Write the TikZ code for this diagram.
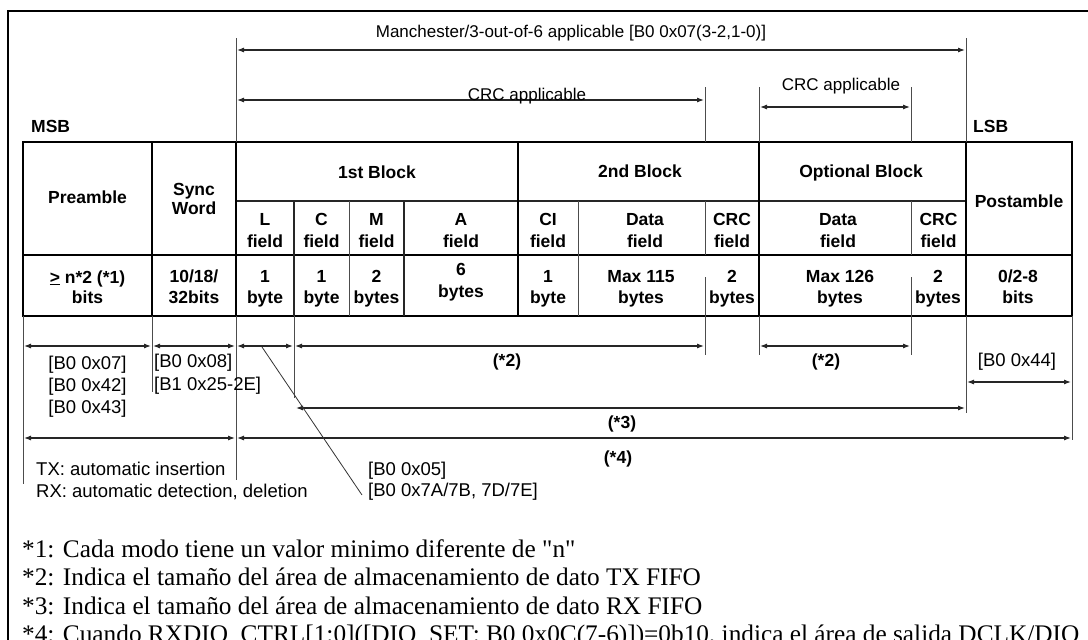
\documentclass[tikz,border=0pt]{standalone}
\usepackage{fontspec}
\setmainfont{Liberation Serif}[Ligatures=TeXOff]
\setsansfont{Liberation Sans}
\usetikzlibrary{arrows.meta}
\newcommand{\tcell}[6]{%
  \node[tb] (#1a) at (#2,#3) {#5};
  \node[tb] (#1b) at (#2,#4) {#6};}
\begin{document}
\begin{tikzpicture}[x=1pt,y=-1pt,
  thk/.style={line width=1.7pt},
  mid/.style={line width=1.2pt, black!85},
  thn/.style={line width=1pt, black!70},
  dim/.style={line width=1.1pt, black!85, {Latex[length=7pt,width=5pt]}-{Latex[length=7pt,width=5pt]}},
  tb/.style={font=\sffamily\bfseries\fontsize{17.5}{21}\selectfont, inner sep=0pt, anchor=base},
  lb/.style={font=\sffamily\fontsize{17}{21}\selectfont, inner sep=0pt, anchor=base},
  br/.style={font=\sffamily\fontsize{18.5}{22}\selectfont, inner sep=0pt, anchor=base west},
  fn/.style={font=\rmfamily\fontsize{25.3}{29}\selectfont, inner sep=0pt, anchor=base west},
]
\useasboundingbox (0,0) rectangle (1088,640);
% frame
\draw[line width=1.5pt] (1100,11) -- (8,11) -- (8,660);

% table
\draw[thk] (23,142) rectangle (1072,316);
\draw[mid] (236,201) -- (966,201);
\draw[thk] (23,255) -- (1072,255);
\draw[thk] (152,142) -- (152,316);
\draw[thk] (236,142) -- (236,316);
\draw[thk] (518,142) -- (518,316);
\draw[thk] (759,142) -- (759,316);
\draw[thk] (966,142) -- (966,316);
\draw[mid] (294,201) -- (294,316);
\draw[thn] (349,201) -- (349,316);
\draw[mid] (404,201) -- (404,316);
\draw[thn] (578,201) -- (578,316);
\draw[thn] (705,201) -- (705,255);
\draw[thn] (911,201) -- (911,255);

% extension lines
\draw[thn] (236,38) -- (236,142);
\draw[thn] (966,38) -- (966,142);
\draw[thn] (705,87) -- (705,142);
\draw[thn] (759,87) -- (759,142);
\draw[thn] (911,87) -- (911,142);
\draw[thn] (23,316) -- (23,484);
\draw[thn] (152,316) -- (152,392);
\draw[thn] (236,316) -- (236,480);
\draw[thn] (294,316) -- (294,398);
\draw[thn] (705,277) -- (705,355);
\draw[thn] (759,316) -- (759,355);
\draw[thn] (911,277) -- (911,355);
\draw[thn] (966,316) -- (966,413);
\draw[thn] (1072,316) -- (1072,440);

% dimension arrows
\coordinate (m1) at (237,50);  \coordinate (m2) at (965,50);
\coordinate (c1a) at (237,100); \coordinate (c1b) at (704,100);
\coordinate (c2a) at (760,107); \coordinate (c2b) at (910,107);
\coordinate (p1) at (24,346);  \coordinate (p2) at (151,346);
\coordinate (s1) at (153,346); \coordinate (s2) at (235,346);
\coordinate (l1) at (237,346); \coordinate (l2) at (293,346);
\coordinate (d1) at (295,346); \coordinate (d2) at (704,346);
\coordinate (o1) at (760,346); \coordinate (o2) at (910,346);
\coordinate (q1) at (967,382); \coordinate (q2) at (1071,382);
\coordinate (r1) at (296,408); \coordinate (r2) at (965,408);
\coordinate (t1) at (24,438);  \coordinate (t2) at (235,438);
\coordinate (u1) at (237,438); \coordinate (u2) at (1071,438);
\foreach \a/\b in {m1/m2,c1a/c1b,c2a/c2b,p1/p2,s1/s2,l1/l2,d1/d2,o1/o2,q1/q2,r1/r2,t1/t2,u1/u2}
  \draw[dim] (\a) -- (\b);
\coordinate (g1) at (262,347); \coordinate (g2) at (362,495);
\draw[line width=0.8pt, black!80] (g1) -- (g2);

% top labels
\node[lb] (man) at (571,37) {Manchester/3-out-of-6 applicable [B0 0x07(3-2,1-0)]};
\node[lb] (crc1) at (527,100) {CRC applicable};
\node[lb] (crc2) at (841,90) {CRC applicable};
\node[tb, anchor=base west] (msb) at (31,132) {MSB};
\node[tb, anchor=base west] (lsb) at (973,132) {LSB};

% header cells
\node[tb] (pre) at (87.5,203) {Preamble};
\tcell{sync}{194}{195}{214}{Sync}{Word}
\node[tb] (b1) at (377,178) {1st Block};
\node[tb] (b2) at (640,177) {2nd Block};
\node[tb] (b3) at (861,177) {Optional Block};
\node[tb] (post) at (1019,207) {Postamble};

% field row
\tcell{fl}{265}{225}{247}{L}{field}
\tcell{fc}{321.5}{225}{247}{C}{field}
\tcell{fm}{376.5}{225}{247}{M}{field}
\tcell{fa}{461}{225}{247}{A}{field}
\tcell{fci}{548}{225}{247}{CI}{field}
\tcell{fd}{645}{225}{247}{Data}{field}
\tcell{fcrc}{732}{225}{247}{CRC}{field}
\tcell{fod}{838}{225}{247}{Data}{field}
\tcell{focrc}{938.5}{225}{247}{CRC}{field}

% value row
\tcell{vpre}{87.5}{283}{303}{\underline{>} n*2 (*1)}{bits}
\tcell{vsync}{194}{282}{303}{10/18/}{32bits}
\tcell{vl}{265}{282}{303}{1}{byte}
\tcell{vc}{321.5}{282}{303}{1}{byte}
\tcell{vm}{376.5}{282}{303}{2}{bytes}
\tcell{va}{461}{275}{297}{6}{bytes}
\tcell{vci}{548}{282}{303}{1}{byte}
\tcell{vd}{641}{282}{303}{Max 115}{bytes}
\tcell{vcrc}{732}{282}{303}{2}{bytes}
\tcell{vod}{840}{282}{303}{Max 126}{bytes}
\tcell{vocrc}{938}{282}{303}{2}{bytes}
\tcell{vpost}{1018}{282}{303}{0/2-8}{bits}

% lower labels
\node[br, anchor=base] (r07) at (87.5,369) {[B0 0x07]};
\node[br, anchor=base] (r42) at (87.5,391) {[B0 0x42]};
\node[br, anchor=base] (r43) at (87.5,413) {[B0 0x43]};
\node[br] (r08) at (154,367) {[B0 0x08]};
\node[br] (r25) at (154,390) {[B1 0x25-2E]};
\node[tb] (n2a) at (507,366) {(*2)};
\node[tb] (n2b) at (826,366) {(*2)};
\node[br, anchor=base] (r44) at (1017,366) {[B0 0x44]};
\node[tb] (n3) at (622,428) {(*3)};
\node[tb] (n4) at (618,463) {(*4)};
\node[br] (tx) at (36,475) {TX: automatic insertion};
\node[br] (rx) at (36,497) {RX: automatic detection, deletion};
\node[br] (r05) at (368,475) {[B0 0x05]};
\node[br] (r7a) at (368,496) {[B0 0x7A/7B, 7D/7E]};

% footnotes
\node[fn] (f1) at (22,557) {*1: Cada modo tiene un valor minimo diferente de "n"};
\node[fn] (f2) at (22,585) {*2: Indica el tamaño del área de almacenamiento de dato TX FIFO};
\node[fn] (f3) at (22,614) {*3: Indica el tamaño del área de almacenamiento de dato RX FIFO};
\node[fn] (f4) at (22,642) {*4: Cuando RXDIO\_CTRL[1:0]([DIO\_SET: B0 0x0C(7-6)])=0b10, indica el área de salida DCLK/DIO};
\end{tikzpicture}
\end{document}
